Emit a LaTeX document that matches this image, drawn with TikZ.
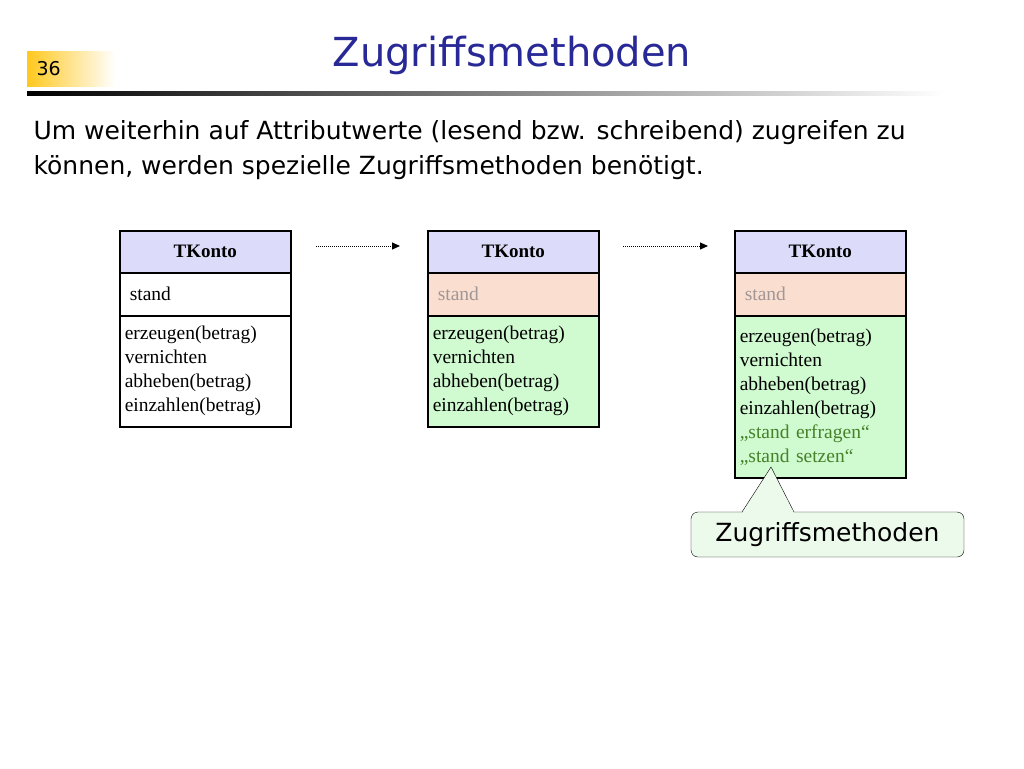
\documentclass[tikz,border=0pt]{standalone}
\usepackage{fontspec}
\setmainfont{Liberation Serif}
\newfontfamily\slidefont{DejaVu Sans}
\usetikzlibrary{positioning,arrows.meta}
\definecolor{titleblue}{RGB}{40,40,150}
\definecolor{hdrfill}{RGB}{220,220,250}
\definecolor{attrfill}{RGB}{250,222,208}
\definecolor{methfill}{RGB}{208,250,208}
\definecolor{notefill}{RGB}{236,250,236}
\definecolor{greytext}{RGB}{160,150,150}
\definecolor{greentext}{RGB}{70,130,40}
\definecolor{numyellow}{RGB}{255,200,30}
\tikzset{
  comp/.style={draw, line width=1.5pt, minimum width=171pt, anchor=north west, inner sep=0pt},
  hdr/.style={comp, fill=hdrfill, minimum height=42pt, font=\fontsize{19}{22}\selectfont\bfseries},
  attr/.style={comp, minimum height=43pt, font=\fontsize{19.5}{22}\selectfont, text width=161pt, align=left},
  meth/.style={comp, text width=161pt, align=left, inner xsep=5pt, inner ysep=5pt,
    font=\fontsize{19.5}{24}\selectfont},
  flow/.style={densely dotted, line width=1pt, -{Triangle[length=8pt,width=7pt]}}
}
\begin{document}
\begin{tikzpicture}[x=1pt, y=-1pt]
\useasboundingbox (0,0) rectangle (1024,768);
%%%%% Title %%%%%
\shade[left color=numyellow, right color=white] (27,52) rectangle (115,86);
\node[font=\slidefont\fontsize{19}{22}\selectfont, anchor=west] (num) at (33,69) {36};
\node[font=\slidefont\fontsize{40}{44}\selectfont, text=titleblue] (title) at (512,55) {Zugriffsmethoden};
\shade[left color=black, right color=white] (27,91) rectangle (945,95);
\node[font=\slidefont\fontsize{25}{35}\selectfont, anchor=north west, align=left] (intro) at (30,117)
  {Um weiterhin auf Attributwerte (lesend bzw. schreibend) zugreifen zu\\
   können, werden spezielle Zugriffsmethoden benötigt.};
%%%%% Klasse 1 %%%%%
\node[hdr] (h1) at (119,230) {TKonto};
\node[attr] (a1) at (119,272) {\hspace*{5pt}stand};
\node[meth, minimum height=111pt] (m1) at (119,315)
  {erzeugen(betrag)\\vernichten\\abheben(betrag)\\einzahlen(betrag)};
%%%%% Klasse 2 %%%%%
\node[hdr] (h2) at (427,230) {TKonto};
\node[attr, fill=attrfill, text=greytext] (a2) at (427,272) {\hspace*{5pt}stand};
\node[meth, fill=methfill, minimum height=111pt] (m2) at (427,315)
  {erzeugen(betrag)\\vernichten\\abheben(betrag)\\einzahlen(betrag)};
%%%%% Klasse 3 %%%%%
\node[hdr] (h3) at (734,230) {TKonto};
\node[attr, fill=attrfill, text=greytext] (a3) at (734,272) {\hspace*{5pt}stand};
\node[meth, fill=methfill, minimum height=162pt] (m3) at (734,315)
  {erzeugen(betrag)\\vernichten\\abheben(betrag)\\einzahlen(betrag)\\
   \textcolor{greentext}{„stand erfragen“}\\\textcolor{greentext}{„stand setzen“}};
%%%%% Pfeile %%%%%
\coordinate (p1) at (316,246);
\coordinate (p2) at (623,246);
\draw[flow] (p1) -- ++(84,0);
\draw[flow] (p2) -- ++(85,0);
%%%%% Sprechblase %%%%%
\node[draw, fill=notefill, rounded corners=7pt, minimum width=273pt, minimum height=45pt,
  font=\slidefont\fontsize{25}{28}\selectfont] (note) at (827.5,534.5) {Zugriffsmethoden};
\coordinate (tip) at (771,467);
\fill[notefill] (742,513.5) -- (tip) -- (794,513.5) -- cycle;
\draw (742,512) -- (tip) -- (794,512);
\end{tikzpicture}
\end{document}
